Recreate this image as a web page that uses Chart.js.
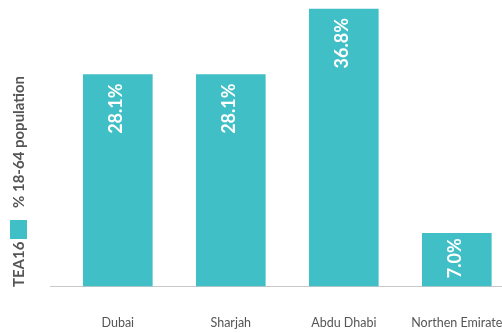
<!DOCTYPE html>
<html>
<head>
<meta charset="utf-8">
<script src="https://cdn.jsdelivr.net/npm/chart.js@4"></script>
<style>
  html, body { margin: 0; padding: 0; background: #ffffff; }
  #wrap { width: 502px; height: 333px; position: relative; }
</style>
</head>
<body>
<div id="wrap"><canvas id="c"></canvas></div>
<script>
// TEA16 by emirate, % of the 18-64 population
const categories = ['Dubai', 'Sharjah', 'Abdu Dhabi', 'Northen Emirate'];
const teaValues = [28.1, 28.1, 36.8, 7.0];
const seriesName = 'TEA16';
const axisTitle = '% 18-64 population';
const valueLabels = teaValues.map(v => v.toFixed(1) + '%');

const barColor = '#41bfc7';
const textGray = '#555555';
const fontFamily = 'Lato, "Open Sans", sans-serif';

// Value printed vertically inside the top of each bar
const barValueLabels = {
  id: 'barValueLabels',
  afterDatasetsDraw(chart) {
    const ctx = chart.ctx;
    const meta = chart.getDatasetMeta(0);
    ctx.save();
    ctx.fillStyle = '#ffffff';
    ctx.font = 'bold 18px ' + fontFamily;
    ctx.textAlign = 'right';
    ctx.textBaseline = 'middle';
    meta.data.forEach((bar, i) => {
      const inset = bar.base - bar.y > 70 ? 9 : 5;
      ctx.save();
      ctx.translate(bar.x - 2, bar.y + inset);
      ctx.rotate(-Math.PI / 2);
      ctx.fillText(valueLabels[i], 0, 0);
      ctx.restore();
    });
    ctx.restore();
  }
};

// Rotated side caption: series name, swatch, unit
const sideCaption = {
  id: 'sideCaption',
  afterDraw(chart) {
    const ctx = chart.ctx;
    ctx.save();
    ctx.translate(18, 287);
    ctx.rotate(-Math.PI / 2);
    ctx.fillStyle = textGray;
    ctx.font = 'bold 15px ' + fontFamily;
    ctx.textAlign = 'left';
    ctx.textBaseline = 'middle';
    ctx.fillText(seriesName, 0, 1);
    ctx.fillStyle = barColor;
    ctx.fillRect(48, -8, 19, 17);
    ctx.fillStyle = textGray;
    ctx.fillText(axisTitle, 79, 1);
    ctx.restore();
  }
};

new Chart(document.getElementById('c'), {
  type: 'bar',
  data: {
    datasets: [{
      label: seriesName,
      data: teaValues.map((v, i) => ({ x: i, y: v })),
      backgroundColor: barColor,
      borderWidth: 0,
      barThickness: 69,
      clip: false
    }]
  },
  options: {
    responsive: true,
    maintainAspectRatio: false,
    animation: false,
    layout: { padding: { left: 50, right: 0, top: 0, bottom: 0 } },
    plugins: {
      legend: { display: false },
      tooltip: { enabled: false }
    },
    scales: {
      x: {
        type: 'linear',
        offset: false,
        min: -0.6,
        max: 3.4,
        afterBuildTicks(scale) {
          scale.ticks = categories.map((_, i) => ({ value: i }));
        },
        afterFit(scale) {
          scale.height = 47;
          scale.paddingLeft = 0;
          scale.paddingRight = 0;
        },
        grid: { display: false, drawTicks: false },
        border: { display: true, color: '#c8c8c8', width: 1 },
        ticks: {
          padding: 29,
          maxRotation: 0,
          autoSkip: false,
          color: textGray,
          font: { family: fontFamily, size: 12.5 },
          callback: v => categories[v]
        }
      },
      y: {
        display: false,
        min: 0,
        max: 38
      }
    }
  },
  plugins: [barValueLabels, sideCaption]
});
</script>
</body>
</html>
